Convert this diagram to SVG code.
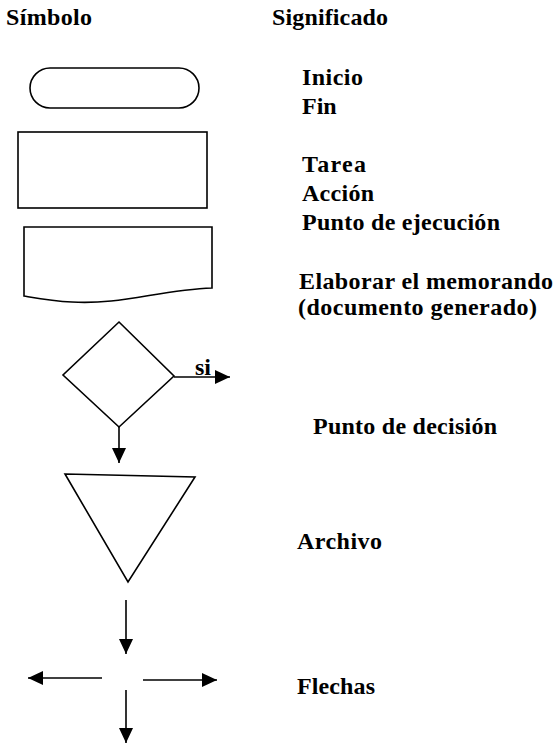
<svg xmlns="http://www.w3.org/2000/svg" width="558" height="745" viewBox="0 0 558 745">
  <style>
    .shape { fill: #ffffff; stroke: #000000; stroke-width: 1.6; }
    .conn { stroke: #000000; stroke-width: 1.6; fill: none; }
    .t { font-family: "Liberation Serif", "Times New Roman", serif; font-weight: bold; font-size: 24px; fill: #000000; }
  </style>
  <defs>
    <marker id="arrow" markerUnits="userSpaceOnUse" markerWidth="16" markerHeight="14" refX="15" refY="7" orient="auto">
      <path d="M0,0 L15,7 L0,14 Z" fill="#000000"/>
    </marker>
  </defs>
  <rect x="0" y="0" width="558" height="745" fill="#ffffff"/>

  <g id="headers">
    <text class="t" x="6" y="25" textLength="86" lengthAdjust="spacing">Símbolo</text>
    <text class="t" x="272" y="25" textLength="116" lengthAdjust="spacing">Significado</text>
  </g>

  <g id="node-terminal">
    <rect class="shape" x="30" y="68" width="169" height="40" rx="20" ry="20"/>
  </g>
  <g id="node-process">
    <rect class="shape" x="18" y="132" width="189" height="76"/>
  </g>
  <g id="node-document">
    <path class="shape" d="M24,227 H212 V288 C160,290 120,305 72,302 C52,301 36,298 24,296 Z"/>
  </g>
  <g id="node-decision">
    <polygon class="shape" points="119,322 174,376 119,427 63,375"/>
  </g>
  <g id="node-archive">
    <polygon class="shape" points="65,474 195,477 128,582"/>
  </g>

  <g id="connectors">
    <line class="conn" x1="174" y1="377" x2="230" y2="377" marker-end="url(#arrow)"/>
    <line class="conn" x1="119" y1="427" x2="119" y2="463" marker-end="url(#arrow)"/>
    <line class="conn" x1="126" y1="600" x2="126" y2="654" marker-end="url(#arrow)"/>
    <line class="conn" x1="102" y1="678" x2="28" y2="678" marker-end="url(#arrow)"/>
    <line class="conn" x1="143" y1="680" x2="217" y2="680" marker-end="url(#arrow)"/>
    <line class="conn" x1="126" y1="690" x2="126" y2="743" marker-end="url(#arrow)"/>
  </g>

  <g id="labels">
    <text class="t" x="195" y="375">si</text>
    <text class="t" x="302" y="85" textLength="61" lengthAdjust="spacing">Inicio</text>
    <text class="t" x="302" y="114">Fin</text>
    <text class="t" x="302" y="172" textLength="64" lengthAdjust="spacing">Tarea</text>
    <text class="t" x="302" y="201" textLength="72" lengthAdjust="spacing">Acción</text>
    <text class="t" x="302" y="230" textLength="198" lengthAdjust="spacing">Punto de ejecución</text>
    <text class="t" x="299" y="289" textLength="254" lengthAdjust="spacing">Elaborar el memorando</text>
    <text class="t" x="298" y="315" textLength="239" lengthAdjust="spacing">(documento generado)</text>
    <text class="t" x="313" y="434" textLength="184" lengthAdjust="spacing">Punto de decisión</text>
    <text class="t" x="297" y="549" textLength="85" lengthAdjust="spacing">Archivo</text>
    <text class="t" x="297" y="694" textLength="78" lengthAdjust="spacing">Flechas</text>
  </g>
</svg>
